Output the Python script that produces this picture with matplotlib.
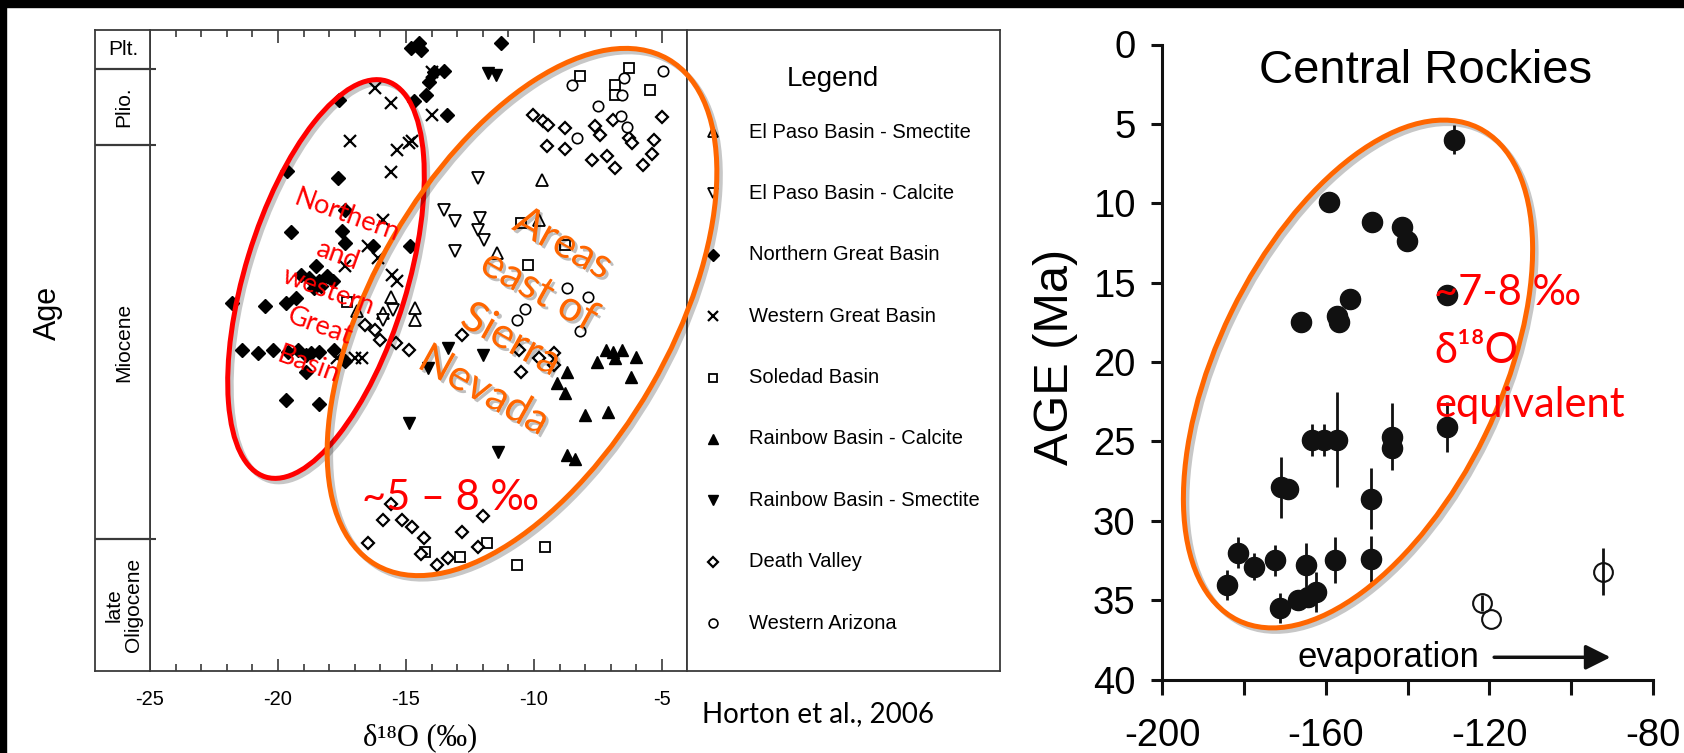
import numpy as np
import matplotlib.pyplot as plt
import matplotlib.patheffects as pe
from matplotlib.patches import Ellipse, Rectangle

plt.rcParams['font.family'] = ['Liberation Sans', 'DejaVu Sans']
plt.rcParams['axes.unicode_minus'] = False

W, H = 1684, 753

# ---------------- left panel (Horton et al., 2006) ----------------
# x = d18O (permil), y = relative age position (0 = top / young, 100 = bottom / old)
epoch_names = ['Plt.', 'Plio.', 'Miocene', 'late\nOligocene']
epoch_bounds = [0, 6.2, 18.0, 79.5, 100]

eps_x = [-9.7, -9.8, -11.45, -15.6, -14.65, -14.65, -16.9, -15.9]
eps_y = [23.5, 29.7, 34.9, 41.7, 43.4, 45.3, 43.9, 44.2]

epc_x = [-12.2, -13.5, -13.1, -12.1, -12.2, -11.95, -13.1, -15.5, -15.9]
epc_y = [23.2, 28.2, 29.9, 29.4, 31.3, 32.8, 34.6, 43.8, 45.3]

ngb_x = [-14.8, -14.5, -14.4, -11.3, -13.9, -13.5, -14.1, -14.2, -14.7, -13.4, -17.6,
         -19.65, -17.65, -17.4, -19.5, -17.5, -17.4, -14.85, -16.3, -18.5, -19.1, -18.8,
         -18.4, -18.1, -17.85, -19.7, -19.3, -18.6, -18.3, -21.8, -20.5, -21.4, -20.8,
         -20.2, -19.6, -19.2, -18.9, -18.7, -18.4, -18.9, -17.8, -17.4, -19.7, -18.4]
ngb_y = [2.9, 2.1, 3.2, 2.1, 6.6, 6.5, 8.2, 10.2, 11.2, 13.3, 11.0,
         22.1, 23.2, 28.2, 31.6, 31.4, 33.3, 33.8, 33.8, 36.9, 38.3, 38.8,
         39.2, 38.5, 39.2, 42.7, 41.9, 40.3, 40.0, 42.7, 43.1, 50.0, 50.5,
         50.0, 50.3, 50.0, 50.8, 50.5, 50.3, 53.4, 50.0, 51.6, 57.8, 58.4]

wgb_x = [-16.2, -15.6, -14.0, -14.0, -17.2, -15.35, -14.9, -14.75, -15.6, -15.9, -16.5,
         -16.1, -17.4, -15.55, -15.35, -17.7, -17.0, -16.7]
wgb_y = [9.1, 11.5, 6.6, 13.3, 17.4, 18.8, 17.7, 17.4, 22.2, 29.7, 33.8,
         35.6, 36.9, 38.3, 39.2, 51.2, 51.2, 51.2]

sol_x = [-8.2, -6.3, -6.85, -6.85, -5.45, -10.5, -8.8, -10.25, -17.3, -14.25, -12.9,
         -11.85, -9.55, -10.65]
sol_y = [7.3, 6.0, 8.7, 10.2, 9.4, 30.2, 33.6, 36.7, 42.5, 81.5, 82.3, 80.1, 80.7, 83.4]

rbc_x = [-7.2, -6.9, -6.55, -6.85, -6.0, -7.55, -8.7, -9.1, -8.8, -6.2, -8.0, -7.1, -8.7, -8.4]
rbc_y = [50.0, 50.3, 50.0, 51.2, 51.1, 51.9, 53.4, 55.1, 56.7, 54.2, 60.1, 59.7, 66.4, 66.9]

rbs_x = [-11.8, -11.5, -13.35, -12.0, -14.15, -11.4, -14.9]
rbs_y = [6.8, 7.1, 49.7, 50.8, 52.8, 65.9, 61.4]

dv_x = [-10.05, -9.65, -9.45, -8.8, -9.5, -8.8, -7.6, -7.4, -6.9, -6.3, -6.15, -5.0, -5.3,
        -7.75, -7.15, -6.85, -5.75, -5.4, -12.8, -10.6, -10.5, -9.8, -9.2, -9.2, -12.0,
        -12.8, -12.2, -13.35, -13.8, -14.3, -14.4, -15.6, -15.9, -15.15, -14.75, -16.5,
        -16.2, -16.0, -15.4, -14.9, -16.6]
dv_y = [13.3, 14.3, 14.9, 15.4, 18.2, 18.6, 15.1, 16.5, 14.1, 16.9, 17.7, 13.7, 17.2,
        20.4, 19.7, 21.6, 21.1, 19.4, 47.7, 50.0, 53.4, 51.2, 50.5, 52.3, 75.9,
        78.4, 80.7, 82.4, 83.4, 79.3, 81.7, 73.9, 76.5, 76.5, 77.6, 80.0,
        46.9, 48.4, 48.9, 50.0, 46.1]

waz_x = [-8.5, -6.5, -6.55, -4.95, -7.5, -6.6, -6.35, -8.3, -8.7, -7.9, -10.35, -10.65, -8.2]
waz_y = [8.7, 7.6, 10.2, 6.5, 11.9, 13.5, 15.2, 16.9, 40.3, 41.7, 43.6, 45.3, 47.0]

x_ticks_left = [-25, -20, -15, -10, -5]

# ---------------- right panel (Central Rockies) ----------------
cr_x = [-128.7, -159.1, -148.7, -141.4, -140.1, -130.3, -154.0, -157.2, -156.7, -166.1,
        -130.3, -163.4, -160.4, -157.2, -143.9, -143.9, -170.8, -169.2, -148.9,
        -181.5, -177.5, -172.4, -164.9, -157.8, -148.9,
        -184.2, -171.1, -166.8, -164.2, -162.4]
cr_age = [6.0, 9.9, 11.2, 11.5, 12.4, 15.8, 16.0, 17.1, 17.5, 17.5,
          24.1, 24.9, 24.9, 24.9, 24.7, 25.4, 27.9, 28.0, 28.6,
          32.0, 32.9, 32.5, 32.8, 32.5, 32.4,
          34.05, 35.5, 35.0, 34.8, 34.5]
cr_err = [0.9, 0, 0, 0, 0, 0, 0, 0, 0, 0,
          1.6, 1.0, 1.0, 3.0, 2.1, 0, 1.9, 0, 1.95,
          0.95, 0.85, 0.95, 1.4, 1.45, 1.45,
          0.95, 0.95, 0, 0, 1.25]
op_x = [-121.9, -119.6, -92.2]
op_age = [35.2, 36.2, 33.2]
op_err = [0.5, 0, 1.5]

FRAME = '#3a3a3a'
ORANGE = '#FF6600'
RED = '#FF0000'
LATO = ['Lato', 'DejaVu Sans']


def rect(x0, y0, x1, y1):
    return [x0 / W, 1 - y1 / H, (x1 - x0) / W, (y1 - y0) / H]


fig = plt.figure(figsize=(W / 100, H / 100), dpi=100)
fig.patches.append(Rectangle((0, 1 - 7 / H), 1, 7 / H, transform=fig.transFigure,
                             color='black', zorder=0))
fig.patches.append(Rectangle((0, 0), 6 / W, 1, transform=fig.transFigure,
                             color='black', zorder=0))

# scatter of the left panel
ax = fig.add_axes(rect(150, 29.5, 687, 671))
series = [
    ('El Paso Basin - Smectite', eps_x, eps_y, '^', 'white', 8.5, 1.3),
    ('El Paso Basin - Calcite', epc_x, epc_y, 'v', 'white', 8.5, 1.3),
    ('Northern Great Basin', ngb_x, ngb_y, 'D', 'black', 7.3, 1.0),
    ('Western Great Basin', wgb_x, wgb_y, 'x', 'black', 8.0, 1.6),
    ('Soledad Basin', sol_x, sol_y, 's', 'white', 7.5, 1.3),
    ('Rainbow Basin - Calcite', rbc_x, rbc_y, '^', 'black', 9.0, 1.0),
    ('Rainbow Basin - Smectite', rbs_x, rbs_y, 'v', 'black', 9.0, 1.0),
    ('Death Valley', dv_x, dv_y, 'D', 'white', 6.5, 1.6),
    ('Western Arizona', waz_x, waz_y, 'o', 'white', 7.5, 1.2),
]
for name, xs, ys, m, fc, ms, mew in series:
    ax.plot(xs, ys, ls='none', marker=m, ms=ms, mfc=fc, mec='black', mew=mew,
            color='black')
ax.set_xlim(-25, -4.02)
ax.set_ylim(100, 0)
ax.set_xticks(x_ticks_left)
ax.set_xticks(np.arange(-25, -4, 1), minor=True)
ax.set_xticklabels([str(v) for v in x_ticks_left])
ax.set_yticks(epoch_bounds[1:-1])
ax.set_yticklabels([])
ax.tick_params(axis='x', which='both', direction='in', top=True, bottom=True,
               labelsize=14.5, pad=13.5, color=FRAME, width=1.2)
ax.tick_params(axis='x', which='major', length=9)
ax.tick_params(axis='x', which='minor', length=5)
ax.tick_params(axis='y', direction='in', length=4, width=1.5, color=FRAME)
for s in ax.spines.values():
    s.set_color(FRAME)
    s.set_linewidth(1.3)

# epoch column
ax_ep = fig.add_axes(rect(95, 29.5, 150, 671))
ax_ep.set_xlim(0, 1)
ax_ep.set_ylim(100, 0)
ax_ep.set_xticks([])
ax_ep.set_yticks([])
for s in ax_ep.spines.values():
    s.set_color(FRAME)
    s.set_linewidth(1.3)
for b in epoch_bounds[1:-1]:
    ax_ep.axhline(b, color=FRAME, lw=1.6)
for name, top, bot in zip(epoch_names, epoch_bounds[:-1], epoch_bounds[1:]):
    ax_ep.text(0.52, (top + bot) / 2, name, rotation=0 if name == 'Plt.' else 90,
               ha='center', va='center', fontsize=15, linespacing=1.0)

# legend box
ax_leg = fig.add_axes(rect(687, 29.5, 1000, 671))
ax_leg.set_xlim(687, 1000)
ax_leg.set_ylim(671, 29.5)
ax_leg.set_xticks([])
ax_leg.set_yticks([])
for s in ax_leg.spines.values():
    s.set_color(FRAME)
    s.set_linewidth(1.3)
ax_leg.text(833, 86, 'Legend', ha='center', va='baseline', fontsize=20)
for i, (name, xs, ys, m, fc, ms, mew) in enumerate(series):
    yy = 132 + i * 61.4
    ax_leg.plot([713], [yy], ls='none', marker=m, ms=ms * 0.85, mfc=fc, mec='black',
                mew=mew, color='black')
    ax_leg.text(749, yy, name, ha='left', va='center', fontsize=14.5)

fig.text(48 / W, 1 - 313 / H, 'Age', rotation=90, ha='center', va='center', fontsize=22)
fig.text(420 / W, 1 - 745 / H, 'δ¹⁸O (‰)', ha='center', va='baseline', fontsize=22,
         family=['Liberation Serif', 'DejaVu Serif'])
fig.text(702 / W, 1 - 722 / H, 'Horton et al., 2006', ha='left', va='baseline',
         fontsize=20, family=LATO)

# ---------------- right panel ----------------
axr = fig.add_axes(rect(1162, 44.5, 1653, 679.5))
axr.errorbar(cr_x, cr_age, yerr=cr_err, fmt='o', ms=14.5, color='#111111',
             elinewidth=2, capsize=0, clip_on=False)
axr.errorbar(op_x, op_age, yerr=op_err, fmt='o', ms=13.5, mfc='none', mec='#111111',
             mew=1.5, color='#111111', elinewidth=2, capsize=0, clip_on=False)
axr.annotate('', xy=(-89.7, 38.6), xytext=(-119.5, 38.6),
             arrowprops=dict(arrowstyle='-|>', lw=2.5, color='#111111',
                             mutation_scale=38))
axr.text(-167.0, 39.2, 'evaporation', ha='left', va='baseline', fontsize=25)
axr.text(-135.5, 2.43, 'Central Rockies', ha='center', va='baseline', fontsize=34)
axr.set_xlim(-200, -80)
axr.set_ylim(40, 0)
axr.set_xticks(np.arange(-200, -79, 20))
axr.set_xticklabels(['-200', '', '-160', '', '-120', '', '-80'])
axr.set_yticks(np.arange(0, 41, 5))
axr.spines[['top', 'right']].set_visible(False)
for s in ('left', 'bottom'):
    axr.spines[s].set_linewidth(2.2)
    axr.spines[s].set_color('#111111')
axr.tick_params(axis='x', length=11, width=2.2, labelsize=27.5, pad=16.5, color='#111111')
axr.tick_params(axis='y', length=8, width=2.2, labelsize=27.5, pad=11, color='#111111')
fig.text(1055 / W, 1 - 357 / H, 'AGE (Ma)', rotation=90, ha='center', va='center',
         fontsize=35)

# ---------------- annotations drawn over everything ----------------
ov = fig.add_axes([0, 0, 1, 1], zorder=10)
ov.set_xlim(0, W)
ov.set_ylim(H, 0)
ov.axis('off')
ov.patch.set_alpha(0)

shadow = [pe.SimpleLineShadow(offset=(2.5, -2.5), shadow_color='k', alpha=0.22), pe.Normal()]
for cx, cy, w, h, ang, col in [(326, 279, 414, 162, -73, RED),
                               (522, 312, 584, 298, -60, ORANGE),
                               (1358, 374, 548, 282, -64, ORANGE)]:
    e = Ellipse((cx, cy), w, h, angle=ang, fill=False, ec=col, lw=3.6)
    e.set_path_effects(shadow)
    ov.add_patch(e)

for (tx, ty), line in zip([(347, 216), (337, 255), (328, 291), (320, 326), (308, 365)],
                          ['Northern', 'and', 'western', 'Great', 'Basin']):
    ov.text(tx, ty, line, rotation=-20, rotation_mode='anchor', ha='center', va='center',
            color=RED, fontsize=19.5, family=LATO)

tshadow = [pe.SimplePatchShadow(offset=(2, -2), shadow_rgbFace='k', alpha=0.25), pe.Normal()]
for (tx, ty), line in zip([(563, 244), (539, 291), (511, 340), (484, 391)],
                          ['Areas', 'east of', 'Sierra', 'Nevada']):
    ov.text(tx, ty, line, rotation=-29, rotation_mode='anchor', ha='center', va='center',
            color=ORANGE, fontsize=30.5, family=LATO, path_effects=tshadow)

ov.text(450, 510, '~5 – 8 ‰', ha='center', va='baseline', color=RED, fontsize=30,
        family=LATO)

for ty, line in zip([305, 363, 417], ['~7-8 ‰', 'δ¹⁸O', 'equivalent']):
    ov.text(1434, ty, line, ha='left', va='baseline', color=RED, fontsize=30, family=LATO)

fig.savefig('out.png', dpi=100)
